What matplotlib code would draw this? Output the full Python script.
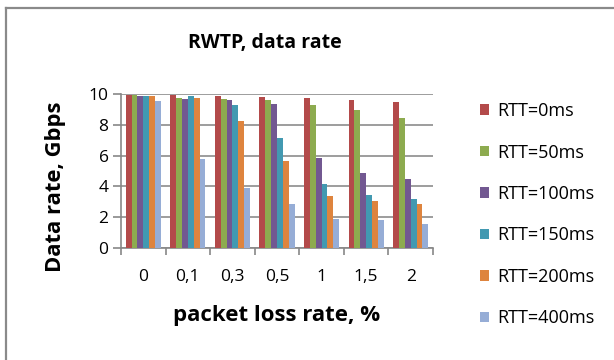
import matplotlib.pyplot as plt
import numpy as np
from matplotlib.lines import Line2D

# packet loss categories and data rate per RTT (Gbps)
loss = ['0', '0,1', '0,3', '0,5', '1', '1,5', '2']
rtt = ['RTT=0ms', 'RTT=50ms', 'RTT=100ms', 'RTT=150ms', 'RTT=200ms', 'RTT=400ms']
rate_0 = [9.96, 9.94, 9.87, 9.83, 9.72, 9.59, 9.48]
rate_50 = [9.94, 9.76, 9.68, 9.59, 9.31, 8.96, 8.44]
rate_100 = [9.90, 9.70, 9.61, 9.35, 5.87, 4.88, 4.47]
rate_150 = [9.87, 9.90, 9.31, 7.13, 4.15, 3.41, 3.20]
rate_200 = [9.87, 9.76, 8.27, 5.62, 3.39, 3.05, 2.85]
rate_400 = [9.57, 5.81, 3.87, 2.87, 1.86, 1.79, 1.56]
series = [rate_0, rate_50, rate_100, rate_150, rate_200, rate_400]

colors = ['#B34A4A', '#8DAB4F', '#725891', '#4299B1', '#DE843E', '#96ADD6']

plt.rcParams['font.family'] = ['Open Sans', 'DejaVu Sans']

fig = plt.figure(figsize=(6.14, 3.6), dpi=100)
ax = fig.add_axes([121/614, 1-248/360, 312/614, 154/360])

x = np.arange(len(loss))
w = 0.131
for i, (vals, c, lab) in enumerate(zip(series, colors, rtt)):
    ax.bar(x + (i - 2.5) * w, vals, width=w, color=c, label=lab, zorder=3)

ax.set_xlim(-0.5, len(loss) - 0.5)
ax.set_ylim(0, 10)
ax.set_yticks(range(0, 11, 2))
ax.set_xticks(x)
ax.set_xticklabels(loss, fontsize=12.5)
ax.set_xticks(np.arange(-0.5, len(loss)), minor=True)
ax.tick_params(axis='x', which='major', length=0, pad=15)
ax.tick_params(axis='x', which='minor', length=5, color='#888888', width=1.2)
ax.tick_params(axis='y', length=6, color='#888888', width=1.2, labelsize=12.5, pad=3)
ax.yaxis.grid(True, color='#8c8c8c', linewidth=1.2, zorder=0)
for s in ['top', 'right']:
    ax.spines[s].set_visible(False)
for s in ['left', 'bottom']:
    ax.spines[s].set_color('#888888')
    ax.spines[s].set_linewidth(1.2)

fig.text(277/614, 1-315/360, 'packet loss rate, %', fontsize=16, fontweight='bold',
         ha='center', va='center')
fig.text(56/614, 1-187/360, 'Data rate, Gbps', fontsize=15.8, fontweight='bold',
         ha='center', va='center', rotation=90)
fig.text(265/614, 1-43/360, 'RWTP, data rate', fontsize=14, fontweight='bold',
         ha='center', va='center')

ax.legend(loc='upper left', bbox_to_anchor=(471/614, 1-93/360), bbox_transform=fig.transFigure,
          frameon=False, fontsize=13, handlelength=0.5, handleheight=0.5,
          handletextpad=0.45, labelspacing=1.3, borderpad=0)

# outer chart frame (left and top edges visible only)
fig.add_artist(Line2D([5.5/614, 5.5/614], [0, 1-8/360], transform=fig.transFigure,
                      color='#8a8a8a', linewidth=1.6))
fig.add_artist(Line2D([5.5/614, 1], [1-8/360, 1-8/360], transform=fig.transFigure,
                      color='#8a8a8a', linewidth=1.6))

fig.savefig('out.png', dpi=100)
